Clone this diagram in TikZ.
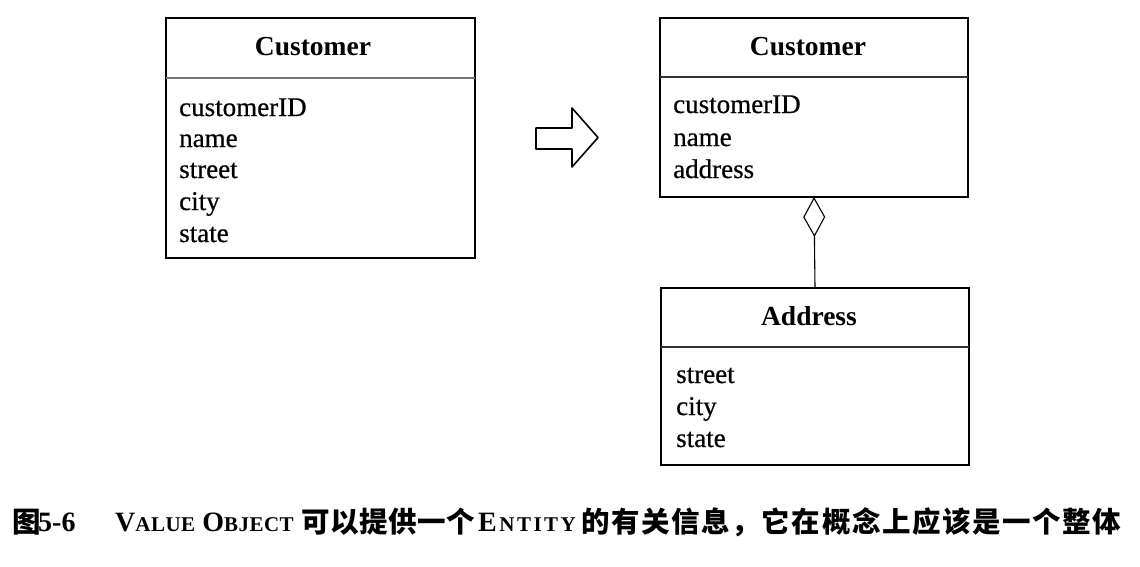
\documentclass[tikz,border=0pt]{standalone}
\usepackage{fontspec}
\setmainfont{Liberation Serif}
\newfontfamily\attrfont{Liberation Serif}[FakeBold=0.6]
\newfontfamily\cjk{Noto Sans CJK SC}
\usetikzlibrary{arrows.meta}
\newcommand\fsc[2]{#1{\fontsize{21}{24}\selectfont #2}}
\newcommand\ck{\kern1.6pt}
\tikzset{
  umlbox/.style={draw=black, line width=1.5pt, inner sep=0pt, outer sep=0pt},
  sepline/.style={draw=black!80, line width=1.2pt},
  title/.style={font=\fontsize{27.5}{30}\selectfont\bfseries, anchor=base, inner sep=0pt},
  attr/.style={font=\attrfont\fontsize{27}{30}\selectfont, anchor=base west, inner sep=0pt},
  hollowarrow/.style={draw=black, line width=1.6pt, line join=round, fill=white},
  aggr/.style={draw=black, line width=1.1pt, {Diamond[open,length=40pt,width=22pt,line width=1.1pt]}-},
  capl/.style={anchor=base west, inner sep=0pt, font=\fontsize{28}{32}\selectfont\bfseries},
  capc/.style={anchor=base west, inner sep=0pt, font=\cjk\fontsize{28.5}{32}\selectfont\bfseries}
}
\begin{document}
\begin{tikzpicture}[x=1pt,y=-1pt]
\useasboundingbox (0,0) rectangle (1140,566);
\fill[white] (0,0) rectangle (1140,566);

% left Customer
\node[umlbox, minimum width=309pt, minimum height=240pt] (c1) at (320.5,138) {};
\draw[sepline, draw=black!55, line width=2.5pt] (c1.west |- 0,78) -- (c1.east |- 0,78);
\node[title] (c1t) at (313,55) {Customer};
\node[attr] (c1a) at (179,116) {customerID};
\node[attr] (c1b) at (179,147) {name};
\node[attr] (c1c) at (179,178) {street};
\node[attr] (c1d) at (179,210) {city};
\node[attr] (c1e) at (179,242) {state};

% hollow arrow
\draw[hollowarrow] (536,128) -- (572,128) -- (572,108) -- (598,137.5) -- (572,167) -- (572,149) -- (536,149) -- cycle;

% right Customer
\node[umlbox, minimum width=308pt, minimum height=179pt] (c2) at (814,107.5) {};
\draw[sepline] (c2.west |- 0,77) -- (c2.east |- 0,77);
\node[title] (c2t) at (808,55) {Customer};
\node[attr] (c2a) at (673,113) {customerID};
\node[attr] (c2b) at (673,146) {name};
\node[attr] (c2c) at (673,178) {address};

% Address
\node[umlbox, minimum width=308pt, minimum height=177pt] (ad) at (815,376.5) {};
\draw[sepline] (ad.west |- 0,347) -- (ad.east |- 0,347);
\node[title] (adt) at (809,325) {Address};
\node[attr] (ada) at (676,383) {street};
\node[attr] (adb) at (676,415) {city};
\node[attr] (adc) at (676,447) {state};

% aggregation
\draw[aggr] (c2.south) -- (ad.north);

% caption
\node[capc] (cap1) at (12,532) {图};
\node[capl] (cap2) at (38,531) {5-6};
\node[capl] (cap3) at (115,531) {\fsc{V}{A\kern0.5pt L\kern0.5pt U\kern0.5pt E} \fsc{O}{B\kern0.5pt J\kern0.5pt E\kern0.5pt C\kern0.5pt T}};
\node[capc] (cap4) at (301,532) {可\kern0.6pt 以\kern0.6pt 提\kern0.6pt 供\kern0.6pt 一\kern0.6pt 个};
\node[capl] (cap5) at (478,531) {\fsc{E}{\kern2.5pt N\kern2.5pt T\kern2.5pt I\kern2.5pt T\kern2.5pt Y}};
\node[capc] (cap6) at (581,532) {的\ck 有\ck 关\ck 信\ck 息\ck ，\ck 它\ck 在\ck 概\ck 念\ck 上\ck 应\ck 该\ck 是\ck 一\ck 个\ck 整\ck 体};
\end{tikzpicture}
\end{document}
